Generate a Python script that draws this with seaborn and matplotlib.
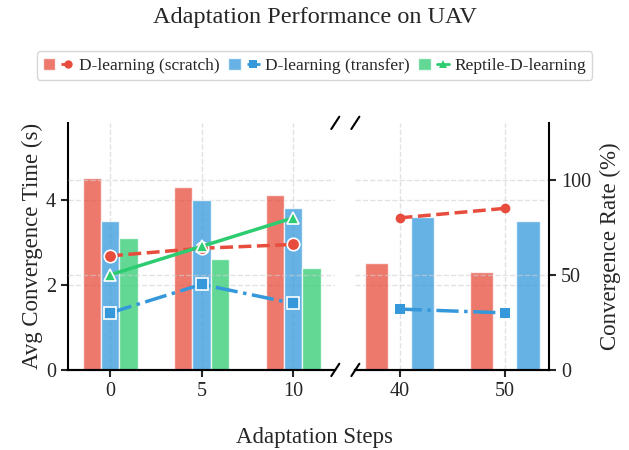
import matplotlib.pyplot as plt
import seaborn as sns
from matplotlib.patches import Patch
from matplotlib.lines import Line2D
from matplotlib.legend_handler import HandlerTuple

# Data
steps_left = [0, 5, 10]
steps_right = [40, 50]
time_scratch = [4.5, 4.3, 4.1, 2.5, 2.3]
time_transfer = [3.5, 4.0, 3.8, 3.6, 3.5]
time_reptile = [3.1, 2.6, 2.4]
rate_scratch = [60, 64, 66, 80, 85]
rate_transfer = [30, 45, 35, 32, 30]
rate_reptile = [50, 65, 80]

labels = ['D-learning (scratch)', 'D-learning (transfer)', 'Reptile-D-learning']
colors = ['#e74c3c', '#3498db', '#2ecc71']
markers = ['o', 's', '^']
styles = ['--', '-.', '-']

sns.set_theme(style='ticks')
plt.rcParams['font.family'] = ['Liberation Serif', 'DejaVu Serif']
plt.rcParams['axes.linewidth'] = 1.5
plt.rcParams['xtick.major.width'] = 1.5
plt.rcParams['ytick.major.width'] = 1.5
plt.rcParams['xtick.major.size'] = 5
plt.rcParams['ytick.major.size'] = 5
plt.rcParams['axes.edgecolor'] = 'black'

fig, (ax1, ax2) = plt.subplots(1, 2, figsize=(6.29, 4.5), dpi=100,
                               gridspec_kw={'width_ratios': [1.38, 1]})
fig.subplots_adjust(left=0.108, right=0.873, bottom=0.178, top=0.727, wspace=0.087)
ax1t = ax1.twinx()
ax2t = ax2.twinx()

grid_kw = dict(linestyle='--', color='#d0d0d0', linewidth=1.0, alpha=0.6)

# Bars (left part: 0, 5, 10)
bar_kw = dict(alpha=0.75, edgecolor='white', linewidth=1.0)
ax1.bar([s - 1 for s in steps_left], time_scratch[:3], width=1, color=colors[0], **bar_kw)
ax1.bar(steps_left, time_transfer[:3], width=1, color=colors[1], **bar_kw)
ax1.bar([s + 1 for s in steps_left], time_reptile, width=1, color=colors[2], **bar_kw)

# Bars (right part: 40, 50)
ax2.bar([s - 2.2 for s in steps_right], time_scratch[3:], width=2.2, color=colors[0], **bar_kw)
ax2.bar([s + 2.2 for s in steps_right], time_transfer[3:], width=2.2, color=colors[1], **bar_kw)

# Convergence-rate lines
rates = [rate_scratch, rate_transfer, rate_reptile]
for rate, c, m, ls in zip(rates, colors, markers, styles):
    sns.lineplot(x=steps_left, y=rate[:3], ax=ax1t, color=c, linestyle=ls, linewidth=2.5,
                 marker=m, markersize=9, markeredgecolor='white', markeredgewidth=1.2)
    if len(rate) > 3:
        sns.lineplot(x=steps_right, y=rate[3:], ax=ax2t, color=c, linestyle=ls, linewidth=2.5,
                     marker=m, markersize=7, markeredgewidth=0)

for ax in (ax1, ax2):
    ax.set_ylim(0, 5.8)
    ax.set_yticks([0, 2, 4])
    ax.grid(True, **grid_kw)
    ax.set_axisbelow(True)
    ax.spines['top'].set_visible(False)
    ax.tick_params(labelsize=14.5)
for ax in (ax1t, ax2t):
    ax.set_ylim(0, 130)
    ax.set_yticks([0, 50, 100])
    ax.yaxis.grid(True, **grid_kw)
    ax.spines['top'].set_visible(False)
    ax.spines['left'].set_visible(False)
    ax.tick_params(labelsize=14.5)

ax1.set_xlim(-2.3, 12.3)
ax1.set_xticks(steps_left)
ax1.spines['right'].set_visible(False)
ax1t.spines['right'].set_visible(False)
ax1t.tick_params(right=False, labelright=False)
ax1.set_ylabel('Avg Convergence Time (s)', fontsize=16.5, labelpad=2)

ax2.set_xlim(35.8, 54.2)
ax2.set_xticks(steps_right)
ax2.spines['left'].set_visible(False)
ax2.spines['right'].set_visible(False)
ax2.tick_params(left=False, labelleft=False)
ax2t.set_ylabel('Convergence Rate (%)', fontsize=16.5, labelpad=6)

# break marks
d = 0.015
kw = dict(color='black', clip_on=False, linewidth=1.5)
ax1.plot((1 - d, 1 + d), (-0.025, 0.025), transform=ax1.transAxes, **kw)
ax1.plot((1 - d, 1 + d), (1 - 0.025, 1 + 0.025), transform=ax1.transAxes, **kw)
d2 = d * 1.38
ax2.plot((-d2, d2), (-0.025, 0.025), transform=ax2.transAxes, **kw)
ax2.plot((-d2, d2), (1 - 0.025, 1 + 0.025), transform=ax2.transAxes, **kw)

fig.supxlabel('Adaptation Steps', fontsize=16.5, y=0.005)
fig.suptitle('Adaptation Performance on UAV', fontsize=17.5, y=0.985)

handles = []
for c, m, ls in zip(colors, markers, styles):
    handles.append((Patch(facecolor=c, alpha=0.75, edgecolor='white'),
                    Line2D([], [], color=c, marker=m, linestyle=ls, linewidth=2,
                           markersize=6, markeredgewidth=0)))
fig.legend(handles, labels, loc='upper center', bbox_to_anchor=(0.5, 0.905), ncol=3,
           fontsize=12.5, handlelength=1.8, handletextpad=0.3, columnspacing=0.5,
           borderpad=0.35, handler_map={tuple: HandlerTuple(ndivide=None)})

plt.savefig('out.png', dpi=100)
